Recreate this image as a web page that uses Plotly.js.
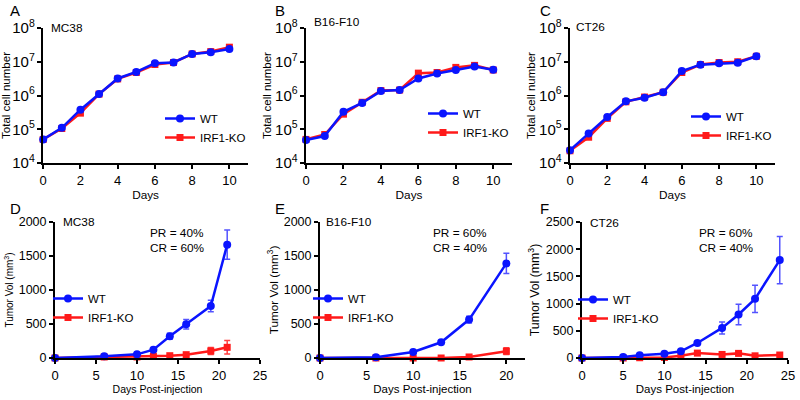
<!DOCTYPE html>
<html>
<head>
<meta charset="utf-8">
<script src="https://cdn.plot.ly/plotly-3.0.1.min.js"></script>
<style>html,body{margin:0;padding:0;background:#fff}#chart{width:800px;height:400px}</style>
</head>
<body>
<div id="chart"></div>
<script>
// ---- In vitro growth (top row) ----
const daysVitro = [0, 1, 2, 3, 4, 5, 6, 7, 8, 9, 10];
const mc38VitroWT = [5e4, 1.1e5, 3.8e5, 1.1e6, 3.2e6, 5.0e6, 9.0e6, 9.5e6, 1.7e7, 1.9e7, 2.4e7];
const mc38VitroKO = [5e4, 1.05e5, 3.0e5, 1.1e6, 3.1e6, 4.8e6, 8.3e6, 9.5e6, 1.7e7, 2.0e7, 2.7e7];
const b16VitroWT = [4.8e4, 6.3e4, 3.3e5, 6.0e5, 1.35e6, 1.45e6, 3.2e6, 4.5e6, 5.7e6, 7.2e6, 5.8e6];
const b16VitroKO = [5.0e4, 7.0e4, 2.8e5, 6.3e5, 1.4e6, 1.45e6, 4.6e6, 4.8e6, 6.8e6, 7.8e6, 5.7e6];
const ct26VitroWT = [2.4e4, 7.5e4, 2.3e5, 6.7e5, 8.6e5, 1.25e6, 5.3e6, 8.2e6, 9.0e6, 9.4e6, 1.45e7];
const ct26VitroKO = [2.3e4, 5.8e4, 2.1e5, 6.5e5, 9.0e5, 1.25e6, 4.8e6, 8.3e6, 9.5e6, 1.0e7, 1.45e7];

// ---- In vivo tumor volume (bottom row) ----
const mc38Days = [0, 6, 10, 12, 14, 16, 19, 21];
const mc38WT = [0, 25, 54, 123, 319, 495, 765, 1667];
const mc38WTerr = [0, 10, 10, 15, 45, 70, 85, 215];
const mc38KO = [0, 15, 15, 25, 34, 49, 103, 157];
const mc38KOerr = [0, 5, 5, 5, 8, 12, 50, 100];

const b16Days = [0, 6, 10, 13, 16, 20];
const b16WT = [0, 10, 88, 231, 565, 1391];
const b16WTerr = [0, 5, 10, 20, 50, 150];
const b16KO = [0, 0, 0, 0, 15, 100];
const b16KOerr = [0, 0, 0, 0, 10, 50];

const ct26Days = [0, 5, 7, 10, 12, 14, 17, 19, 21, 24];
const ct26WT = [0, 18, 49, 80, 123, 276, 553, 800, 1087, 1800];
const ct26WTerr = [0, 5, 8, 10, 15, 25, 110, 190, 250, 435];
const ct26KO = [0, 0, 5, 10, 40, 90, 65, 85, 40, 55];
const ct26KOerr = [0, 0, 3, 5, 10, 20, 20, 30, 15, 15];

const seriesNames = ['WT', 'IRF1-KO'];
const panelLetters = ['A', 'B', 'C', 'D', 'E', 'F'];
const cellLines = ['MC38', 'B16-F10', 'CT26', 'MC38', 'B16-F10', 'CT26'];
const responseText = ['PR = 40%<br>CR = 60%', 'PR = 60%<br>CR = 40%', 'PR = 60%<br>CR = 40%'];

const BLUE = '#0a14ff';
const RED = '#ff1a1a';
const FONT = 'Arial, "Liberation Sans", sans-serif';

// minor tick positions for the log axes (2..9 x 10^n)
const logMinorTicks = [];
for (let e = 4; e < 8; e++) for (let k = 2; k <= 9; k++) logMinorTicks.push(k * Math.pow(10, e));

function pair(i, x, wt, ko, wtErr, koErr) {
  const xa = i === 0 ? 'x' : 'x' + (i + 1);
  const ya = i === 0 ? 'y' : 'y' + (i + 1);
  const lg = i === 0 ? 'legend' : 'legend' + (i + 1);
  const koTrace = {
    x: x, y: ko, xaxis: xa, yaxis: ya, legend: lg, name: seriesNames[1], legendrank: 2,
    mode: 'lines+markers', type: 'scatter', cliponaxis: false,
    line: {color: RED, width: 2.5}, marker: {color: RED, symbol: 'square', size: 7}
  };
  const wtTrace = {
    x: x, y: wt, xaxis: xa, yaxis: ya, legend: lg, name: seriesNames[0], legendrank: 1,
    mode: 'lines+markers', type: 'scatter', cliponaxis: false,
    line: {color: BLUE, width: 2.5}, marker: {color: BLUE, symbol: 'circle', size: 8}
  };
  if (koErr) koTrace.error_y = {type: 'data', array: koErr, color: 'rgba(255,30,30,0.85)', thickness: 1.5, width: 3};
  if (wtErr) wtTrace.error_y = {type: 'data', array: wtErr, color: 'rgba(40,40,255,0.8)', thickness: 1.5, width: 3};
  return [koTrace, wtTrace];
}

const data = [].concat(
  pair(0, daysVitro, mc38VitroWT, mc38VitroKO),
  pair(1, daysVitro, b16VitroWT, b16VitroKO),
  pair(2, daysVitro, ct26VitroWT, ct26VitroKO),
  pair(3, mc38Days, mc38WT, mc38KO, mc38WTerr, mc38KOerr),
  pair(4, b16Days, b16WT, b16KO, b16WTerr, b16KOerr),
  pair(5, ct26Days, ct26WT, ct26KO, ct26WTerr, ct26KOerr)
);

function f(size) { return {family: FONT, size: size, color: '#000'}; }

function xAxis(domain, range, dtick, anchor, title, titleSize) {
  return {
    domain: domain, range: range, dtick: dtick, tick0: 0, anchor: anchor,
    showgrid: false, zeroline: false, showline: true, linecolor: '#000', linewidth: 2,
    ticks: 'outside', ticklen: 4, tickwidth: 2, tickcolor: '#000',
    tickfont: f(13), title: {text: title, font: f(titleSize), standoff: 0}, fixedrange: true
  };
}
function yLog(domain, anchor) {
  return {
    domain: domain, type: 'log', range: [4, 8], dtick: 1, anchor: anchor,
    exponentformat: 'power', showexponent: 'all',
    showgrid: false, zeroline: false, showline: true, linecolor: '#000', linewidth: 2,
    ticks: 'outside', ticklen: 4, tickwidth: 2, tickcolor: '#000',
    tickfont: f(12), title: {text: 'Total cell number', font: f(11.5), standoff: 1}, fixedrange: true
  };
}
// overlay axis that only draws the small minor ticks of a log axis
function yLogMinor(base, anchor) {
  return {
    overlaying: base, type: 'log', range: [4, 8], anchor: anchor, side: 'left',
    tickmode: 'array', tickvals: logMinorTicks, showticklabels: false,
    showgrid: false, zeroline: false, showline: false,
    ticks: 'outside', ticklen: 3, tickwidth: 1, tickcolor: '#000', fixedrange: true
  };
}
function yLin(domain, range, anchor, titleSize) {
  return {
    domain: domain, range: range, dtick: 500, tick0: 0, anchor: anchor,
    showgrid: false, zeroline: false, showline: true, linecolor: '#000', linewidth: 2,
    ticks: 'outside', ticklen: 4, tickwidth: 2, tickcolor: '#000',
    tickfont: f(12.5),
    title: {text: 'Tumor Vol (mm<sup>3</sup>)', font: f(titleSize), standoff: 3}, fixedrange: true
  };
}

const topY = [0.5925, 0.93];
const botY = [0.105, 0.445];

function legendAt(x, y) {
  return {x: x, y: y, xanchor: 'left', yanchor: 'top', bgcolor: 'rgba(0,0,0,0)',
    font: f(11.5), itemwidth: 30, tracegroupgap: 0};
}

const annotations = [];
const letterPos = [[8, 10], [273, 10], [538, 10], [8, 208], [273, 208], [538, 208]];
letterPos.forEach((p, i) => annotations.push({
  xref: 'paper', yref: 'paper', x: p[0] / 800, y: 1 - p[1] / 400, xanchor: 'left', yanchor: 'middle',
  text: panelLetters[i], showarrow: false, font: f(15)
}));
const linePos = [[49, 28], [312, 22], [574, 27], [61, 222], [324, 222], [588, 223]];
linePos.forEach((p, i) => annotations.push({
  xref: 'paper', yref: 'paper', x: p[0] / 800, y: 1 - p[1] / 400, xanchor: 'left', yanchor: 'middle',
  text: cellLines[i], showarrow: false, font: f(11.8)
}));
const respPos = [[148, 240], [431, 240], [697, 240]];
respPos.forEach((p, i) => annotations.push({
  xref: 'paper', yref: 'paper', x: p[0] / 800, y: 1 - p[1] / 400, xanchor: 'left', yanchor: 'middle', align: 'left',
  text: responseText[i], showarrow: false, font: f(11.8)
}));

const layout = {
  width: 800, height: 400, margin: {l: 0, r: 0, t: 0, b: 0},
  paper_bgcolor: '#fff', plot_bgcolor: '#fff', showlegend: true,
  font: {family: FONT, color: '#000'},
  xaxis: xAxis([0.054, 0.31], [0, 11], 2, 'y', 'Days', 11.8),
  yaxis: yLog(topY, 'x'),
  xaxis2: xAxis([0.3825, 0.64], [0, 11], 2, 'y2', 'Days', 11.8),
  yaxis2: yLog(topY, 'x2'),
  xaxis3: xAxis([0.7125, 0.96875], [0, 11], 2, 'y3', 'Days', 11.8),
  yaxis3: yLog(topY, 'x3'),
  xaxis4: xAxis([0.06875, 0.325], [0, 25], 5, 'y4', 'Days Post-injection', 10.5),
  yaxis4: yLin(botY, [0, 2000], 'x4', 10),
  xaxis5: xAxis([0.4, 0.65625], [0, 22], 5, 'y5', 'Days Post-injection', 11.5),
  yaxis5: yLin(botY, [0, 2000], 'x5', 11.8),
  xaxis6: xAxis([0.7275, 0.985], [0, 25], 5, 'y6', 'Days Post-injection', 11.5),
  yaxis6: yLin(botY, [0, 2500], 'x6', 12.3),
  yaxis7: yLogMinor('y', 'x'),
  yaxis8: yLogMinor('y2', 'x2'),
  yaxis9: yLogMinor('y3', 'x3'),
  legend: legendAt(160 / 800, 1 - 104 / 400),
  legend2: legendAt(423 / 800, 1 - 99 / 400),
  legend3: legendAt(686 / 800, 1 - 102 / 400),
  legend4: legendAt(48 / 800, 1 - 284 / 400),
  legend5: legendAt(308 / 800, 1 - 284 / 400),
  legend6: legendAt(573 / 800, 1 - 285 / 400),
  annotations: annotations
};

Plotly.newPlot('chart', data, layout, {displayModeBar: false, staticPlot: true});
</script>
</body>
</html>
